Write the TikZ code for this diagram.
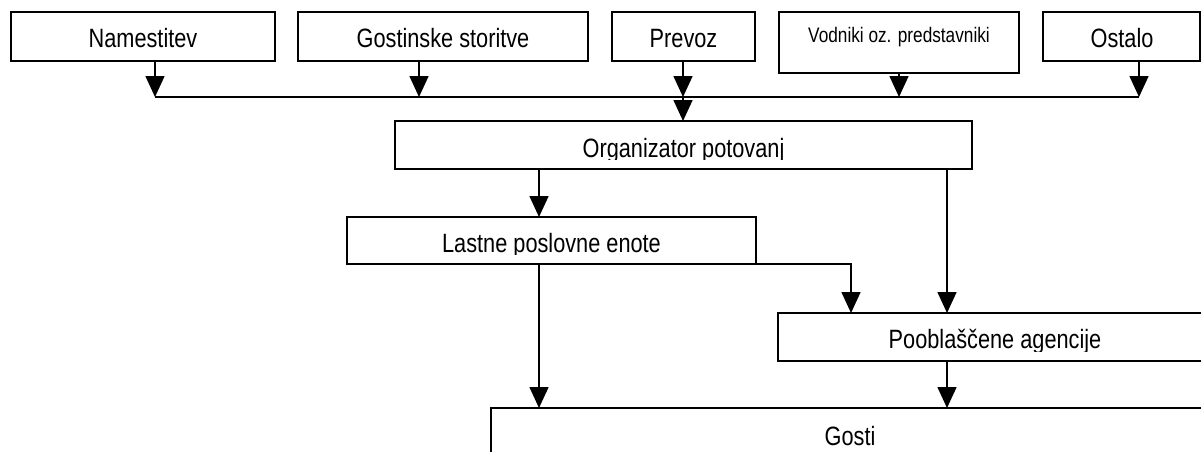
\documentclass[tikz,border=0pt]{standalone}
\usepackage{fontspec}
\setmainfont{Liberation Sans}[FakeStretch=0.82]
\usetikzlibrary{arrows.meta}
\begin{document}
\begin{tikzpicture}[x=1pt,y=-1pt,
  box/.style={draw, line width=1.8pt, rectangle, inner sep=0pt, outer sep=0pt, anchor=north west},
  lbl/.style={inner sep=0pt, anchor=base, font=\fontsize{26.5}{30}\selectfont},
  small/.style={inner sep=0pt, anchor=base, font=\fontsize{21}{25}\selectfont},
  link/.style={line width=1.6pt},
  arr/.style={link, -{Triangle[length=21pt,width=19pt]}}]

\useasboundingbox (0,0) rectangle (1201,452);
\clip (0,0) rectangle (1201,452);

% suppliers
\node[box, minimum width=264pt, minimum height=49pt] (nam)  at (11,12)   {};
\node[box, minimum width=290pt, minimum height=49pt] (gost) at (298,12)  {};
\node[box, minimum width=143pt, minimum height=49pt] (prev) at (612,12)  {};
\node[box, minimum width=240pt, minimum height=61pt] (vod)  at (779,12)  {};
\node[box, minimum width=157pt, minimum height=49pt] (ost)  at (1043,12) {};

\node[lbl]   (nam-t)  at (143,48)    {Namestitev};
\node[lbl]   (gost-t) at (443,48)    {Gostinske storitve};
\node[lbl]   (prev-t) at (683.5,48)  {Prevoz};
\node[small] (vod-t)  at (899,43)    {Vodniki oz. predstavniki};
\node[lbl]   (ost-t)  at (1122,48)   {Ostalo};

% intermediaries and guests
\node[box, minimum width=577pt, minimum height=48pt] (org)   at (395,121) {};
\node[box, minimum width=409pt, minimum height=47pt] (last)  at (347,217) {};
\node[box, minimum width=434pt, minimum height=48pt] (poob)  at (778,313) {};
\node[box, minimum width=718pt, minimum height=80pt] (gosti) at (491,408) {};

\begin{scope}
  \clip (395,121) rectangle (972,159.5);
  \node[lbl] (org-t) at (683.5,157) {Organizator potovanj};
\end{scope}
\begin{scope}
  \clip (347,217) rectangle (756,254.5);
  \node[lbl] (last-t) at (551.5,252) {Lastne poslovne enote};
\end{scope}
\begin{scope}
  \clip (778,313) rectangle (1201,351);
  \node[lbl] (poob-t) at (995,348) {Pooblaščene agencije};
\end{scope}
\node[lbl] (gosti-t) at (850,445) {Gosti};

% collecting line
\coordinate (j-nam)  at (155,97);
\coordinate (j-gost) at (419,97);
\coordinate (j-prev) at (683,97);
\coordinate (j-vod)  at (899,97);
\coordinate (j-ost)  at (1139,97);
\coordinate (c-left)  at (539,0);
\coordinate (c-mid)   at (851,0);
\coordinate (c-right) at (947,0);

\draw[arr] (nam.south -| j-nam)   -- (j-nam);
\draw[arr] (gost.south -| j-gost) -- (j-gost);
\draw[arr] (prev.south -| j-prev) -- (j-prev);
\draw[arr] (vod.south -| j-vod)   -- (j-vod);
\draw[arr] (ost.south -| j-ost)   -- (j-ost);
\draw[link] (j-nam) -- (j-ost);
\draw[arr] (j-prev) -- (org.north -| j-prev);

% distribution
\draw[arr] (org.south -| c-left)   -- (last.north -| c-left);
\draw[arr] (org.south -| c-right)  -- (poob.north -| c-right);
\draw[arr] (last.south east) -| (poob.north -| c-mid);
\draw[arr] (last.south -| c-left)  -- (gosti.north -| c-left);
\draw[arr] (poob.south -| c-right) -- (gosti.north -| c-right);
\end{tikzpicture}
\end{document}
